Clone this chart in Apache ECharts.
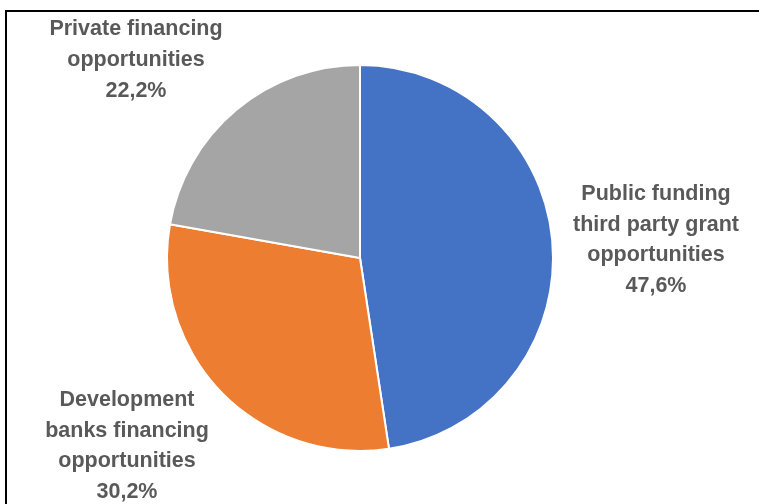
<!DOCTYPE html>
<html>
<head>
<meta charset="utf-8">
<script src="https://cdn.jsdelivr.net/npm/echarts@6/dist/echarts.min.js"></script>
<style>
  html, body { margin: 0; padding: 0; background: #fff; }
  #chart { width: 759px; height: 504px; }
</style>
</head>
<body>
<div id="chart"></div>
<script>
// Funding sources, share of total (%)
const categories = [
  'Public funding\nthird party grant\nopportunities',
  'Development\nbanks financing\nopportunities',
  'Private financing\nopportunities'
];
const shares = [47.6, 30.2, 22.2];
const sliceColors = ['#4472C4', '#ED7D31', '#A5A5A5'];

// Label anchor points (centre of each text block), in pixels
const labelSpots = [[656, 240], [127, 446], [136, 60]];

const chart = echarts.init(document.getElementById('chart'), null, { renderer: 'canvas' });

chart.setOption({
  backgroundColor: '#ffffff',
  animation: false,
  graphic: [{
    type: 'rect',
    shape: { x: 6, y: 11, width: 800, height: 600 },
    style: { fill: 'none', stroke: '#000000', lineWidth: 2 },
    silent: true
  }],
  series: [{
    type: 'pie',
    center: [360, 258],
    radius: [0, 193],
    startAngle: 90,
    clockwise: true,
    data: categories.map((name, i) => ({
      name: name,
      value: shares[i],
      itemStyle: { color: sliceColors[i] }
    })),
    itemStyle: { borderColor: '#ffffff', borderWidth: 2 },
    label: {
      show: true,
      position: 'outside',
      overflow: 'none',
      formatter: p => p.name + '\n' + p.value.toFixed(1).replace('.', ',') + '%',
      fontFamily: 'Liberation Sans',
      fontWeight: 'bold',
      fontSize: 21.5,
      lineHeight: 30.7,
      color: '#595959',
      align: 'center'
    },
    labelLine: { show: false },
    labelLayout: params => ({
      x: labelSpots[params.dataIndex][0],
      y: labelSpots[params.dataIndex][1],
      align: 'center',
      verticalAlign: 'middle'
    }),
    emphasis: { disabled: true }
  }]
});
</script>
</body>
</html>
